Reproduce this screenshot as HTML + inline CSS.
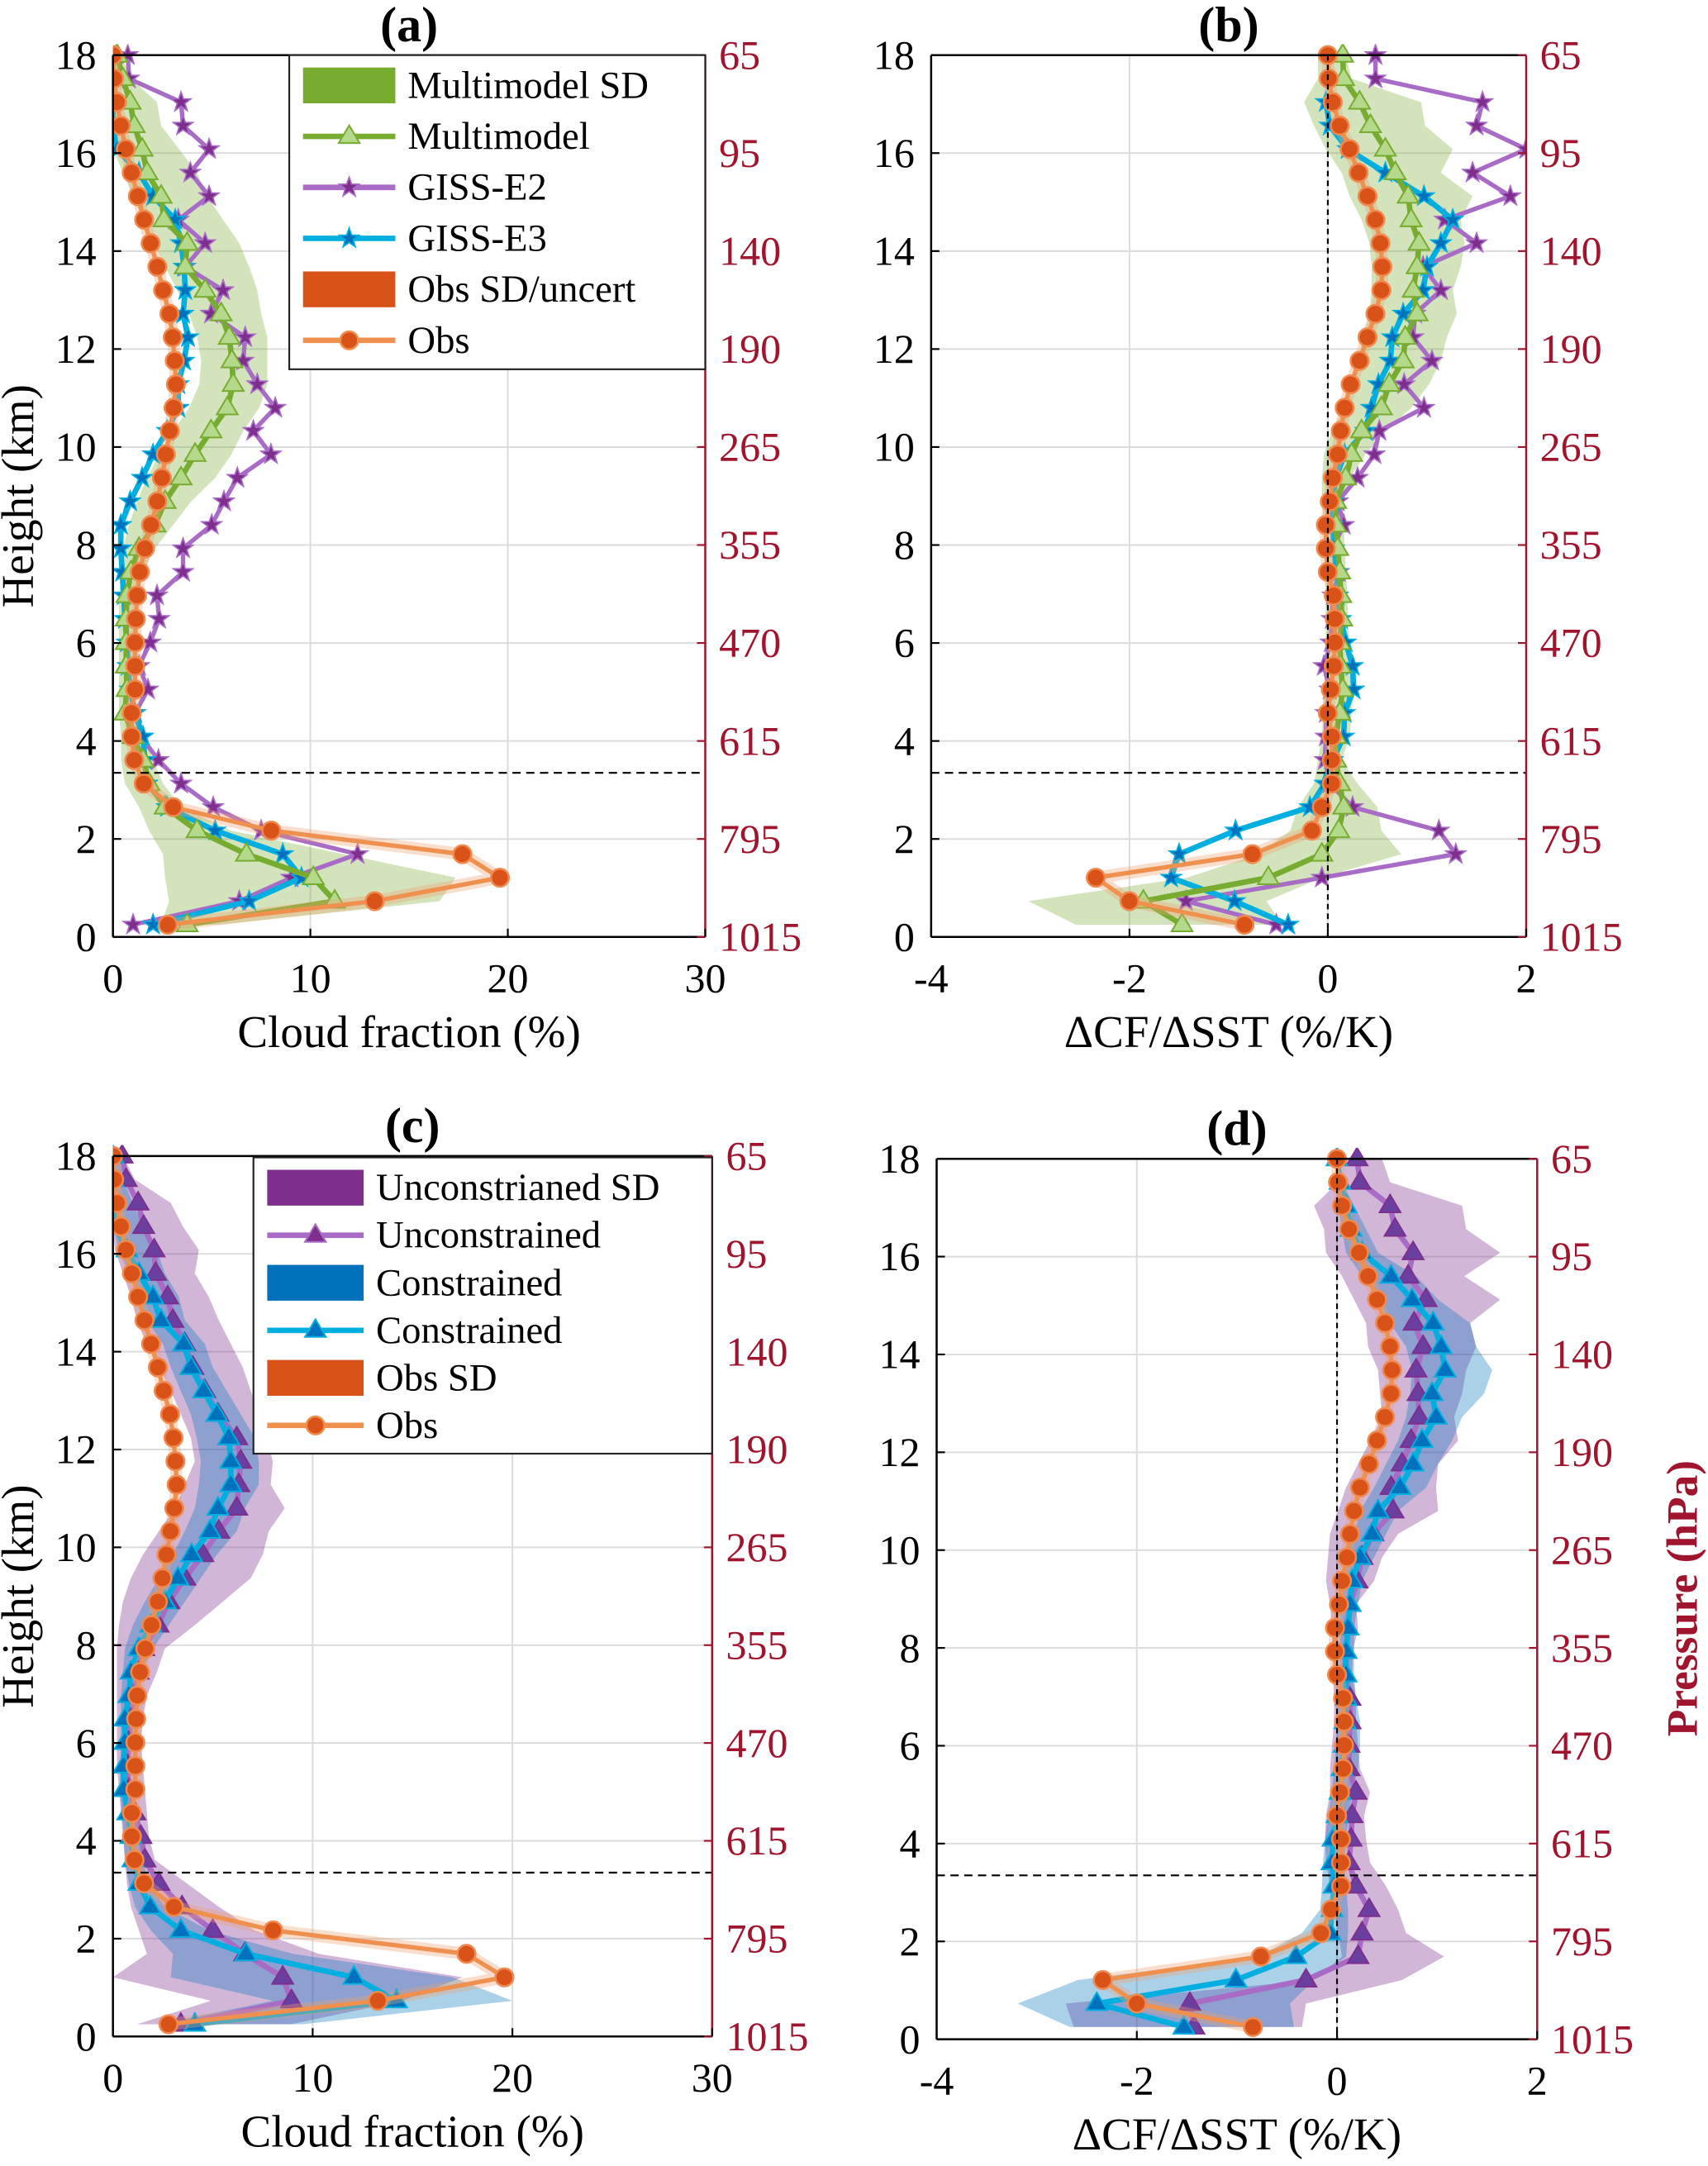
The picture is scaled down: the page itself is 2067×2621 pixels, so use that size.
<!DOCTYPE html>
<html><head><meta charset="utf-8"><style>
html,body{margin:0;padding:0;background:#fff}
svg{display:block;font-family:"Liberation Serif",serif}
text{font-family:"Liberation Serif",serif}
</style></head><body>
<svg id="fig" width="2067" height="2621" viewBox="0 0 1240 1572" preserveAspectRatio="none" font-family="Liberation Serif, serif" xmlns="http://www.w3.org/2000/svg"></svg>
<script>
// heights (km), top to bottom
const heights=[18,17.52,17.04,16.56,16.08,15.6,15.12,14.64,14.16,13.68,13.2,12.72,12.24,11.76,11.28,10.8,10.33,9.85,9.37,8.89,8.41,7.93,7.45,6.97,6.49,6.01,5.53,5.05,4.57,4.09,3.61,3.13,2.65,2.17,1.69,1.21,0.73,0.25];
const heightTicks=[0,2,4,6,8,10,12,14,16,18];
const pressureLabels=["1015","795","615","470","355","265","190","140","95","65"];
const cfTicks=[0,10,20,30];
const dcfTicks=[-4,-2,0,2];
// panel a
const obsCF=[0,0.06,0.2,0.4,0.65,0.95,1.26,1.58,1.91,2.25,2.54,2.86,3.03,3.13,3.19,3.07,2.88,2.68,2.48,2.25,1.93,1.62,1.36,1.22,1.16,1.12,1.12,1.12,0.95,0.95,1.08,1.56,3.05,8.02,17.7,19.6,13.26,2.78];
const mmCF=[0.2,0.5,0.87,1.08,1.48,1.73,2.44,2.58,3.76,3.66,4.67,5.48,5.89,6.03,6.09,5.79,4.97,4.16,3.45,2.64,2.13,1.32,0.91,0.71,0.67,0.67,0.67,0.71,0.61,1.02,1.52,1.83,2.64,4.26,6.76,10.15,11.23,3.76];
const mmLoCF=[0,0,0.1,0.1,0,0.51,1.02,1.52,2.13,2.64,3.25,3.86,4.26,4.47,4.37,3.86,3.05,2.34,1.73,1.22,0.81,0.51,0.41,0.3,0.3,0.3,0.3,0.3,0.3,0.41,0.41,0.61,1.32,1.83,2.54,2.64,2.84,2.44];
const mmHiCF=[0.41,0.91,2.23,2.44,3.35,4.26,4.77,5.58,6.4,6.9,7.31,7.51,7.82,7.82,7.82,7.41,6.6,6.0,5.18,3.96,3.05,2.13,1.52,1.22,1.08,1.02,1.02,1.12,1.12,1.62,2.03,2.54,3.45,5.99,11.68,17.36,16.55,5.38];
const e2CF=[0.75,0.81,3.45,3.55,4.87,3.92,4.87,3.31,4.67,3.66,5.58,4.97,6.7,6.6,7.31,8.22,7.11,8.0,6.3,5.62,5.0,3.55,3.55,2.23,2.34,1.89,1.32,1.77,1.12,1.42,2.3,3.45,5.08,7.51,12.39,9.04,6.4,1.02];
const e3CF=[null,null,0,0,0.2,1.32,2.03,3.15,3.45,3.6,3.66,3.55,3.8,3.6,3.31,3.31,2.74,2.03,1.48,0.87,0.4,0.4,0.47,0.55,0.61,0.71,0.75,0.87,1.12,1.52,1.62,1.73,2.74,5.18,8.6,9.55,6.9,2.03];
// panel b
const obsD=[0,0.01,0.05,0.12,0.22,0.31,0.4,0.48,0.53,0.55,0.54,0.48,0.4,0.32,0.23,0.17,0.13,0.1,0.05,0.02,-0.02,-0.02,0,0.06,0.07,0.07,0.06,0.03,0,0.04,0.04,0.04,-0.06,-0.16,-0.76,-2.34,-2.0,-0.84];
const mmD=[0.15,0.16,0.32,0.43,0.58,0.68,0.81,0.84,0.92,0.9,0.86,0.9,0.78,0.76,0.62,0.54,0.34,0.24,0.18,0.08,0.08,0.1,0.12,0.13,0.14,0.12,0.13,0.15,0.12,0.08,0.08,0.12,0.16,0.11,-0.06,-0.6,-1.86,-1.47];
const mmLoD=[-0.1,-0.1,-0.24,-0.14,-0.02,0.14,0.22,0.34,0.42,0.44,0.44,0.42,0.36,0.3,0.22,0.16,0.04,-0.04,-0.06,-0.06,-0.04,-0.03,-0.02,-0.02,-0.02,-0.02,-0.03,-0.04,-0.05,-0.06,-0.1,-0.14,-0.3,-0.38,-0.7,-1.42,-3.02,-2.54];
const mmHiD=[0.18,0.24,0.94,0.98,1.26,1.14,1.46,1.34,1.38,1.34,1.26,1.3,1.2,1.14,1.02,0.84,0.58,0.38,0.22,0.16,0.16,0.17,0.18,0.2,0.2,0.22,0.24,0.26,0.24,0.22,0.14,0.3,0.5,0.54,0.74,-0.06,-0.62,-0.46];
const e2D=[0.48,0.48,1.56,1.5,2.0,1.46,1.84,1.18,1.5,0.96,1.14,0.88,0.86,1.05,0.77,0.97,0.52,0.47,0.3,0.1,0.16,0.05,0.11,0.05,0.04,0.03,-0.04,0.02,-0.02,-0.02,-0.03,0.02,0.25,1.12,1.29,-0.06,-1.43,-0.52];
const e3D=[null,null,-0.02,0.02,0.2,0.58,0.97,1.26,1.14,1.0,0.96,0.76,0.65,0.63,0.51,0.44,0.38,0.17,0.08,0.05,0.05,0.06,0.09,0.1,0.13,0.18,0.25,0.26,0.17,0.16,0.05,-0.03,-0.18,-0.93,-1.5,-1.58,-0.94,-0.4];
// panel c
const unCF=[0.46,0.66,1.26,1.54,2.06,2.14,2.74,3.0,3.6,4.0,4.6,5.26,6.2,6.4,6.3,6.2,5.3,4.5,3.6,2.8,2.26,1.54,1.26,1.0,0.9,0.8,0.74,0.8,1.1,1.4,1.6,2.3,3.46,5.0,6.6,8.5,8.94,3.4];
const unLoCF=[0.1,0.1,0,0,0.1,0.5,0.9,1.2,1.7,2.3,2.9,3.4,3.9,4.1,3.6,3.1,2.3,1.5,0.9,0.5,0.3,0.2,0.2,0.2,0.2,0.2,0.2,0.3,0.4,0.5,0.6,0.7,0.9,1.3,1.7,0,4.9,1.2];
const unHiCF=[0.5,1.1,2.9,3.5,4.3,4.1,4.8,5.3,5.9,6.5,6.9,7.3,7.7,8.0,7.9,8.6,7.8,7.5,6.9,5.5,4.1,2.6,2.2,1.7,1.5,1.4,1.5,1.6,1.7,1.8,2.1,3.7,5.3,7.1,10.3,17.5,14.5,8.9];
const coCF=[0,0,0,0.1,0.7,1.3,2.0,2.4,3.54,3.9,4.54,5.2,5.8,5.9,5.9,5.26,4.86,3.94,3.26,2.6,1.9,1.3,0.9,0.8,0.6,0.6,0.54,0.54,0.74,0.9,1.0,1.3,1.86,3.4,6.66,12.06,14.2,4.1];
const coLoCF=[0,0,0,0,0.3,0.8,1.3,1.7,2.5,2.9,3.4,3.9,4.2,4.4,4.3,4.1,3.6,3.0,2.3,1.6,1.0,0.6,0.5,0.4,0.4,0.4,0.35,0.35,0.45,0.55,0.6,0.8,1.1,1.9,3.0,2.9,8.0,2.3];
const coHiCF=[0.3,0.5,1.0,1.5,2.2,2.6,3.3,3.6,4.6,5.0,5.7,6.4,7.1,7.3,7.3,6.6,6.2,5.2,4.4,3.6,2.8,2.0,1.4,1.2,1.0,0.9,0.9,0.9,1.1,1.3,1.5,1.8,2.6,4.8,9.0,17.0,20.0,9.5];
// panel d
const unD=[0.2,0.23,0.53,0.58,0.76,0.71,0.89,0.77,0.86,0.79,0.81,0.82,0.74,0.65,0.54,0.56,0.36,0.25,0.2,0.13,0.11,0.09,0.08,0.13,0.13,0.12,0.12,0.19,0.15,0.14,0.12,0.19,0.32,0.25,0.21,-0.31,-1.47,-1.43];
const unLoD=[0.03,0.01,-0.23,-0.13,-0.11,0.05,0.17,0.29,0.31,0.41,0.43,0.45,0.33,0.21,0.09,0.01,-0.07,-0.09,-0.11,-0.07,-0.05,-0.05,-0.04,-0.03,-0.03,-0.05,-0.07,-0.07,-0.11,-0.12,-0.11,-0.07,-0.03,0.01,0.05,-0.23,-2.71,-2.63];
const unHiD=[0.45,0.53,1.25,1.29,1.63,1.27,1.63,1.33,1.39,1.29,1.25,1.17,1.21,1.01,0.99,1.01,0.61,0.45,0.37,0.19,0.21,0.16,0.15,0.19,0.19,0.21,0.23,0.33,0.27,0.29,0.33,0.49,0.61,0.69,1.07,0.65,-0.31,-0.35];
const coD=[0,0.03,0.09,0.14,0.25,0.54,0.75,0.96,1.04,1.08,0.95,0.99,0.85,0.76,0.63,0.41,0.35,0.23,0.15,0.13,0.11,0.09,0.09,0.09,0.08,0.07,0.05,0.03,0,-0.04,-0.05,-0.03,-0.05,-0.07,-0.41,-1.01,-2.4,-1.53];
const coLoD=[0,0,0.01,0.05,0.09,0.25,0.41,0.53,0.69,0.75,0.73,0.69,0.61,0.49,0.37,0.23,0.17,0.09,0.05,0.03,0.03,0.03,0.03,0.01,0.01,-0.01,-0.03,-0.05,-0.09,-0.12,-0.14,-0.15,-0.17,-0.35,-0.79,-2.59,-3.19,-2.67];
const coHiD=[0.01,0.05,0.17,0.29,0.41,0.79,1.01,1.33,1.39,1.55,1.47,1.25,1.15,1.01,0.89,0.61,0.49,0.37,0.25,0.21,0.17,0.17,0.17,0.19,0.23,0.23,0.21,0.15,0.12,0.09,0.07,0.09,0.11,0.11,0.09,-0.23,-0.47,-0.43];
const boundaryHeight=3.35;

const NS="http://www.w3.org/2000/svg";
const svg=document.getElementById('fig');
const RED="#a0142e";
const FONT="Liberation Serif, serif";
function mk(tag,attrs,parent){const e=document.createElementNS(NS,tag);for(const k in attrs)e.setAttribute(k,attrs[k]);(parent||svg).appendChild(e);return e;}
function txt(s,attrs,parent){attrs['font-family']=FONT;const e=mk('text',attrs,parent);e.textContent=s;return e;}

function panel(p){
  const g=mk('g',{});
  
  
  const X=v=>p.x0+(v-p.xmin)/(p.xmax-p.xmin)*(p.x1-p.x0);
  const Y=h=>p.y1-h/18*(p.y1-p.y0);
  const clipId='clip-'+p.name;
  const cp=mk('clipPath',{id:clipId},g);mk('rect',{x:p.x0,y:p.y0-8,width:p.x1-p.x0,height:p.y1-p.y0+8},cp);
  p.xticks.forEach(t=>{const l=mk('line',{x1:X(t),x2:X(t),y1:p.y0,y2:p.y1,stroke:'#dcdcdc','stroke-width':1.2},g);});
  heightTicks.forEach(t=>{const l=mk('line',{x1:p.x0,x2:p.x1,y1:Y(t),y2:Y(t),stroke:'#dcdcdc','stroke-width':1.2},g);});
  const plot=mk('g',{'clip-path':'url(#'+clipId+')'},g);
  p.bands.forEach(b=>{
    let pts=[];heights.forEach((h,i)=>pts.push(X(b.lo[i])+','+Y(h)));
    for(let i=heights.length-1;i>=0;i--)pts.push(X(b.hi[i])+','+Y(heights[i]));
    const e=mk('polygon',{points:pts.join(' '),fill:b.color,'fill-opacity':b.op,stroke:'none'},plot);
    
    
  });
  const hl=mk('line',{x1:p.x0,x2:p.x1,y1:Y(boundaryHeight),y2:Y(boundaryHeight),stroke:'#000','stroke-width':1.3,'stroke-dasharray':'6,4'},g);
  
  if(p.zeroLine){const vl=mk('line',{x1:X(0),x2:X(0),y1:p.y0,y2:p.y1,stroke:'#000','stroke-width':1.3,'stroke-dasharray':'4,3'},g);}
  p.series.forEach(s=>{
    const sg=mk('g',{},plot);
    
    
    let d='',pen=false;
    s.vals.forEach((v,i)=>{if(v===null){pen=false;return;}d+=(pen?'L':'M')+X(v).toFixed(1)+','+Y(heights[i]).toFixed(1);pen=true;});
    if(s.under)mk('path',{d:d,fill:'none',stroke:s.under,'stroke-width':9,'stroke-opacity':0.35,'stroke-linejoin':'round'},sg);
    mk('path',{d:d,fill:'none',stroke:s.line,'stroke-width':s.w||3.2,'stroke-linejoin':'round'},sg);
    s.vals.forEach((v,i)=>{if(v===null)return;const m=marker(s.marker,X(v),Y(heights[i]),s.mfill,s.mstroke,sg);});
  });
  mk('line',{x1:p.x0,x2:p.x1,y1:p.y0,y2:p.y0,stroke:'#000','stroke-width':1.5},g);
  mk('line',{x1:p.x0,x2:p.x1,y1:p.y1,y2:p.y1,stroke:'#000','stroke-width':1.5},g);
  mk('line',{x1:p.x0,x2:p.x0,y1:p.y0,y2:p.y1,stroke:'#000','stroke-width':1.5},g);
  mk('line',{x1:p.x1,x2:p.x1,y1:p.y0,y2:p.y1,stroke:RED,'stroke-width':1.5},g);
  heightTicks.forEach((t,i)=>{
    mk('line',{x1:p.x0,x2:p.x0+6,y1:Y(t),y2:Y(t),stroke:'#000','stroke-width':1.3},g);
    mk('line',{x1:p.x1-6,x2:p.x1,y1:Y(t),y2:Y(t),stroke:RED,'stroke-width':1.3},g);
    const tl=txt(String(t),{x:p.x0-12,y:Y(t)+10,'font-size':30,'text-anchor':'end',fill:'#000'},g);
    
    const pl=txt(pressureLabels[i],{x:p.x1+10,y:Y(t)+10,'font-size':30,fill:RED},g);
    
  });
  p.xticks.forEach(t=>{
    mk('line',{x1:X(t),x2:X(t),y1:p.y1-6,y2:p.y1,stroke:'#000','stroke-width':1.3},g);
    const tl=txt(String(t),{x:X(t),y:p.y1+40,'font-size':30,'text-anchor':'middle',fill:'#000'},g);
    
  });
  const xt=txt(p.xlabel,{x:(p.x0+p.x1)/2,y:p.y1+80,'font-size':33,'text-anchor':'middle'},g);
  
  const tt=txt(p.title,{x:(p.x0+p.x1)/2,y:p.y0-10,'font-size':36,'font-weight':'bold','text-anchor':'middle'},g);
  
  if(p.ylabel){const yt=txt(p.ylabel,{x:0,y:0,'font-size':33,'text-anchor':'middle',transform:'translate(24,'+((p.y0+p.y1)/2)+') rotate(-90)'},g);}
  if(p.legend){
    const L=p.legend;const lg=mk('g',{},g);
    
    mk('rect',{x:L.x,y:L.y,width:L.w,height:L.h,fill:'#fff',stroke:'#222','stroke-width':1.3},lg);
    L.items.forEach((it,i)=>{
      const cy=L.y+22+i*L.dy;
      const eg=mk('g',{},lg);
      
      if(it.patch){mk('rect',{x:L.x+10,y:cy-13,width:L.pw,height:26,fill:it.patch},eg);}
      else{mk('line',{x1:L.x+10,x2:L.x+10+L.pw,y1:cy,y2:cy,stroke:it.line,'stroke-width':4},eg);marker(it.marker,L.x+10+L.pw/2,cy,it.mfill,it.mstroke,eg);}
      txt(it.text,{x:L.x+L.pw+19,y:cy+9,'font-size':28},eg);
    });
  }
}
function marker(type,x,y,fill,stroke,parent){
  if(type==='circle')return mk('circle',{cx:x,cy:y,r:6.5,fill:fill,stroke:stroke,'stroke-width':1.5},parent);
  if(type==='tri'){const r=8;return mk('polygon',{points:`${x},${y-r} ${x+r*0.95},${y+r*0.6} ${x-r*0.95},${y+r*0.6}`,fill:fill,stroke:stroke,'stroke-width':1.2},parent);}
  if(type==='star'){let pts=[];for(let k=0;k<10;k++){const a=-Math.PI/2+k*Math.PI/5;const r=k%2?3:7.5;pts.push((x+r*Math.cos(a)).toFixed(1)+','+(y+r*Math.sin(a)).toFixed(1));}return mk('polygon',{points:pts.join(' '),fill:fill,stroke:stroke,'stroke-width':1},parent);}
}
const GREEN='#77ac30',GFILL='#77ac30',PURP='#a86bc6',PMARK='#7e2f8e',BLUE='#00aee0',BMARK='#0072bd',ORL='#f0904e',ORM='#d95319';
const obsSeries=v=>({label:'obs-series',vals:v,line:ORL,under:'#f0a070',marker:'circle',mfill:ORM,mstroke:'#f08a50'});
panel({name:'panel-a',title:'(a)',x0:82,x1:512,y0:40,y1:680,xmin:0,xmax:30,xticks:cfTicks,xlabel:'Cloud fraction (%)',ylabel:'Height (km)',
 bands:[{label:'multimodel-sd-band',lo:mmLoCF,hi:mmHiCF,color:GFILL,op:0.32}],
 series:[{label:'giss-e2-series',vals:e2CF,line:PURP,marker:'star',mfill:PMARK,mstroke:PURP},
  {label:'giss-e3-series',vals:e3CF,line:BLUE,marker:'star',mfill:BMARK,mstroke:BLUE,w:4},
  {label:'multimodel-series',vals:mmCF,line:GREEN,marker:'tri',mfill:'#b5d98a',mstroke:GREEN,w:4},obsSeries(obsCF)],
 legend:{x:210,y:40,w:302,h:228,dy:37,pw:67,items:[{patch:GREEN,text:'Multimodel SD'},{line:GREEN,marker:'tri',mfill:'#b5d98a',mstroke:GREEN,text:'Multimodel'},{line:PURP,marker:'star',mfill:PMARK,mstroke:PURP,text:'GISS-E2'},{line:BLUE,marker:'star',mfill:BMARK,mstroke:BLUE,text:'GISS-E3'},{patch:'#d95319',text:'Obs SD/uncert'},{line:ORL,marker:'circle',mfill:ORM,mstroke:ORL,text:'Obs'}]}});
panel({name:'panel-b',title:'(b)',x0:676,x1:1108,y0:40,y1:680,xmin:-4,xmax:2,xticks:dcfTicks,xlabel:'ΔCF/ΔSST (%/K)',zeroLine:true,
 bands:[{label:'multimodel-sd-band',lo:mmLoD,hi:mmHiD,color:GFILL,op:0.32}],
 series:[{label:'giss-e2-series',vals:e2D,line:PURP,marker:'star',mfill:PMARK,mstroke:PURP},
  {label:'giss-e3-series',vals:e3D,line:BLUE,marker:'star',mfill:BMARK,mstroke:BLUE,w:4},
  {label:'multimodel-series',vals:mmD,line:GREEN,marker:'tri',mfill:'#b5d98a',mstroke:GREEN,w:4},obsSeries(obsD)]});
panel({name:'panel-c',title:'(c)',x0:82,x1:517,y0:839,y1:1478,xmin:0,xmax:30,xticks:cfTicks,xlabel:'Cloud fraction (%)',ylabel:'Height (km)',
 bands:[{label:'unconstrained-sd-band',lo:unLoCF,hi:unHiCF,color:'#7e2f8e',op:0.35},{label:'constrained-sd-band',lo:coLoCF,hi:coHiCF,color:'#0072bd',op:0.33}],
 series:[{label:'unconstrained-series',vals:unCF,line:PURP,marker:'tri',mfill:'#6a3fa0',mstroke:PMARK,w:4},
  {label:'constrained-series',vals:coCF,line:BLUE,marker:'tri',mfill:BMARK,mstroke:BLUE,w:4},obsSeries(obsCF)],
 legend:{x:184,y:840,w:333,h:215,dy:34.5,pw:70,items:[{patch:'#7e2f8e',text:'Unconstrianed  SD'},{line:PURP,marker:'tri',mfill:PMARK,mstroke:PURP,text:'Unconstrained'},{patch:'#0072bd',text:'Constrained'},{line:BLUE,marker:'tri',mfill:BMARK,mstroke:BLUE,text:'Constrained'},{patch:'#d95319',text:'Obs SD'},{line:ORL,marker:'circle',mfill:ORM,mstroke:ORL,text:'Obs'}]}});
panel({name:'panel-d',title:'(d)',x0:680,x1:1116,y0:841,y1:1480,xmin:-4,xmax:2,xticks:dcfTicks,xlabel:'ΔCF/ΔSST (%/K)',zeroLine:true,
 bands:[{label:'unconstrained-sd-band',lo:unLoD,hi:unHiD,color:'#7e2f8e',op:0.35},{label:'constrained-sd-band',lo:coLoD,hi:coHiD,color:'#0072bd',op:0.33}],
 series:[{label:'unconstrained-series',vals:unD,line:PURP,marker:'tri',mfill:'#6a3fa0',mstroke:PMARK,w:4},
  {label:'constrained-series',vals:coD,line:BLUE,marker:'tri',mfill:BMARK,mstroke:BLUE,w:4},obsSeries(obsD)]});
const pt=txt('Pressure (hPa)',{x:0,y:0,'font-size':32,'font-weight':'bold','text-anchor':'middle',fill:RED,transform:'translate(1232,1160) rotate(-90)'});


</script>
</body></html>
